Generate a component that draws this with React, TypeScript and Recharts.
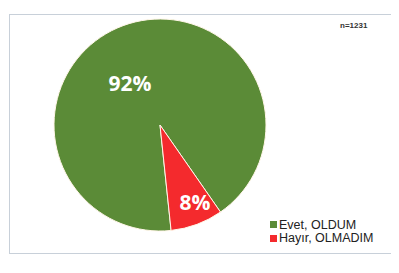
import React from "react";
import { PieChart, Pie, Cell, Legend } from "recharts";

const categories = ["Evet, OLDUM", "Hayır, OLMADIM"];
const values = [92, 8];
const colors = ["#5b8b37", "#f42a2d"];
const sampleNote = "n=1231";

const data = categories.map((name, i) => ({ name, value: values[i] }));

// label placement style (radius fraction, angle shift in degrees)
const LABEL_STYLE = [
  { r: 0.49, shift: 15 },
  { r: 0.8, shift: 4 },
];

const RAD = Math.PI / 180;

const renderLabel = (props: any) => {
  const { cx, cy, midAngle, outerRadius, index, value } = props;
  const st = LABEL_STYLE[index];
  const a = (midAngle + st.shift) * RAD;
  const r = outerRadius * st.r;
  const x = cx + r * Math.cos(a);
  const y = cy - r * Math.sin(a);
  return (
    <text
      x={x}
      y={y}
      fill="#ffffff"
      textAnchor="middle"
      dominantBaseline="central"
      fontFamily="'Open Sans', 'Liberation Sans', sans-serif"
      fontWeight="bold"
      fontSize={21}
    >
      {`${value}%`}
    </text>
  );
};

const renderLegend = (props: any) => {
  const { payload } = props;
  return (
    <div style={{ fontFamily: "'Liberation Sans', Arial, sans-serif", fontSize: 12.5, color: "#222" }}>
      {payload.map((entry: any, i: number) => (
        <div key={i} style={{ display: "flex", alignItems: "center", height: 13.5 }}>
          <span
            style={{
              display: "inline-block",
              width: 7,
              height: 7,
              background: entry.color,
              marginRight: 2,
            }}
          />
          <span>{entry.value}</span>
        </div>
      ))}
    </div>
  );
};

export default function App() {
  return (
    <div style={{ position: "relative", width: 399, height: 273, margin: -8, background: "#fff" }}>
      <div
        style={{
          position: "absolute",
          left: 9,
          top: 14,
          width: 383,
          height: 238,
          border: "1px solid #c8d0d9",
        }}
      />
      <div
        style={{
          position: "absolute",
          left: 340,
          top: 21,
          fontFamily: "'Liberation Sans', Arial, sans-serif",
          fontSize: 8,
          fontWeight: "bold",
          color: "#333",
        }}
      >
        {sampleNote}
      </div>
      <div style={{ position: "absolute", left: 0, top: 0 }}>
        <PieChart width={399} height={273} margin={{ top: 0, right: 0, bottom: 0, left: 0 }}>
          <Pie
            data={data}
            dataKey="value"
            nameKey="name"
            cx={160}
            cy={125}
            outerRadius={106}
            startAngle={-84}
            endAngle={-444}
            stroke="#fff6e8"
            strokeWidth={1}
            label={renderLabel}
            labelLine={false}
            isAnimationActive={false}
          >
            {data.map((d, i) => (
              <Cell key={d.name} fill={colors[i]} />
            ))}
          </Pie>
          <Legend
            content={renderLegend}
            layout="vertical"
            wrapperStyle={{ position: "absolute", left: 270, top: 218, width: 120 }}
          />
        </PieChart>
      </div>
    </div>
  );
}
